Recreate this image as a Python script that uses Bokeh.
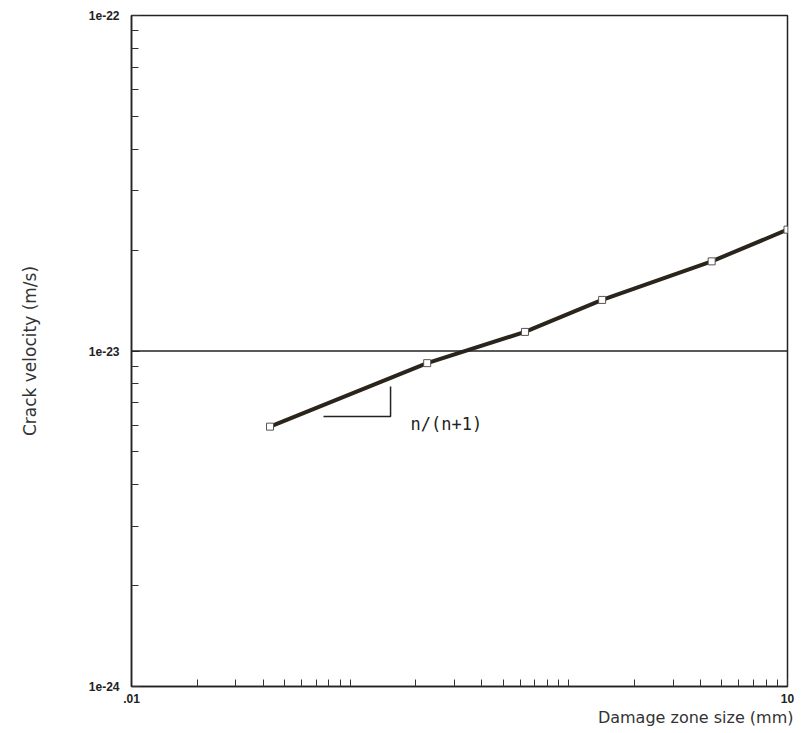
from bokeh.plotting import figure
from bokeh.models import Range1d, FixedTicker, CustomJSTickFormatter, Span, Label, Title
from bokeh.embed import file_html
from bokeh.resources import INLINE

# data
damage_zone_mm = [0.043, 0.225, 0.63, 1.42, 4.5, 10.0]
crack_velocity = [5.95e-24, 9.2e-24, 1.14e-23, 1.42e-23, 1.85e-23, 2.3e-23]

x_ticks = [0.01, 10.0]
x_tick_labels = [".01", "10"]
y_ticks = [1e-24, 1e-23, 1e-22]
y_tick_labels = ["1e-24", "1e-23", "1e-22"]
x_minor = [k * 10.0 ** e for e in (-2, -1, 0) for k in range(1, 10)][1:]
y_minor = [k * 10.0 ** e for e in (-24, -23) for k in range(2, 10)]

x_title = "Damage zone size (mm)"
y_title = "Crack velocity (m/s)"

# slope triangle annotation (data coordinates)
tri_x = [0.0755, 0.153, 0.153]
tri_y = [6.38e-24, 6.38e-24, 7.84e-24]
slope_label = "n/(n+1)"
slope_label_x = 0.189
slope_label_y = 6.07e-24
ref_level = 1e-23

p = figure(width=796, height=726, x_axis_type="log", y_axis_type="log",
           x_range=Range1d(0.01, 10), y_range=Range1d(1e-24, 1e-22),
           output_backend="svg", toolbar_location=None,
           min_border_left=131, min_border_right=9, min_border_top=15, min_border_bottom=40)

p.background_fill_color = "white"
p.border_fill_color = "white"
p.outline_line_color = "#222222"
p.outline_line_width = 1.5
p.grid.visible = False

fmt_code = """
for (let i = 0; i < tvals.length; i++) {
  if (Math.abs(Math.log10(tvals[i]) - Math.log10(tick)) < 1e-6) return tlabels[i];
}
return '';
"""

xa = p.xaxis[0]
xa.ticker = FixedTicker(ticks=x_ticks, minor_ticks=x_minor)
xa.formatter = CustomJSTickFormatter(args=dict(tvals=x_ticks, tlabels=x_tick_labels), code=fmt_code)
ya = p.yaxis[0]
ya.ticker = FixedTicker(ticks=y_ticks, minor_ticks=y_minor)
ya.formatter = CustomJSTickFormatter(args=dict(tvals=y_ticks, tlabels=y_tick_labels), code=fmt_code)

for ax in (xa, ya):
    ax.axis_line_color = "#222222"
    ax.axis_line_width = 1.5
    ax.major_tick_in = 8
    ax.major_tick_out = 0
    ax.minor_tick_in = 7
    ax.minor_tick_out = 0
    ax.major_tick_line_color = "#333333"
    ax.minor_tick_line_color = "#333333"
    ax.major_label_text_font = "Liberation Sans"
    ax.major_label_text_font_style = "bold"
    ax.major_label_text_font_size = "12px"
    ax.major_label_text_color = "#222222"

xa.major_label_standoff = 7
xa.major_label_text_align = "left"
ya.major_label_standoff = 12
ya.axis_label = y_title
ya.axis_label_text_font = "DejaVu Sans"
ya.axis_label_text_font_style = "normal"
ya.axis_label_text_font_size = "17px"
ya.axis_label_text_color = "#333333"
ya.axis_label_standoff = 46

p.add_layout(Title(text=x_title, align="right", text_font="DejaVu Sans",
                   text_font_style="normal", text_font_size="16px", text_color="#333333",
                   standoff=0, offset=-6), "below")

p.add_layout(Span(location=ref_level, dimension="width", line_color="#222222", line_width=1.5))

p.line(damage_zone_mm, crack_velocity, line_color="#2b241c", line_width=4)
p.scatter(damage_zone_mm, crack_velocity, marker="square", size=7,
          fill_color="white", line_color="#555555", line_width=1)

p.line(tri_x, tri_y, line_color="#222222", line_width=1.5)
p.add_layout(Label(x=slope_label_x, y=slope_label_y, text=slope_label,
                   text_font="DejaVu Sans Mono", text_font_size="17px",
                   text_color="#222222", text_baseline="middle", text_align="left"))

open("out.html", "w").write(file_html(p, INLINE))
